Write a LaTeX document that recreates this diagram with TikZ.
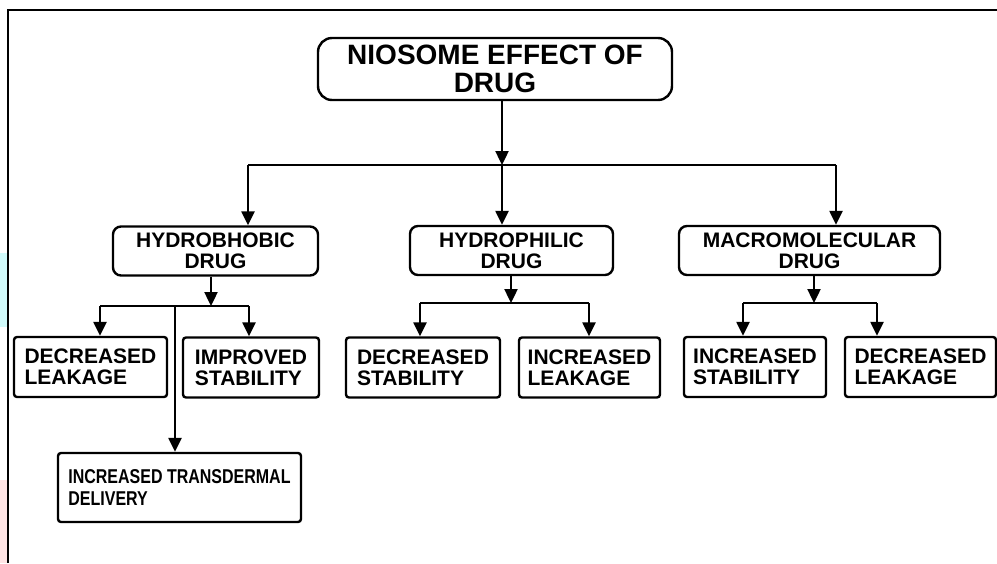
\documentclass[tikz,border=0pt]{standalone}
\usepackage{fontspec}
\setmainfont{Liberation Sans}
\newfontfamily\narrowfont[FakeStretch=0.8]{Liberation Sans}
\usepackage{tikz}
\usetikzlibrary{positioning,arrows.meta}
\definecolor{edgecyan}{RGB}{208,250,250}
\definecolor{edgepink}{RGB}{255,228,228}

\begin{document}
\begin{tikzpicture}[x=0.5pt,y=-0.5pt,line width=1.2pt,>={Triangle[length=7pt,width=6.5pt]}]
        \tikzstyle{topbox}=[draw,rounded corners=7pt,minimum width=177pt,minimum height=31pt,align=center,font=\bfseries\fontsize{14}{14.2}\selectfont]
        \tikzstyle{drugbox}=[draw,rounded corners=4pt,minimum height=24.5pt,align=center,font=\bfseries\fontsize{10.5}{10.4}\selectfont]
        \tikzstyle{effbox}=[draw,rounded corners=1.5pt,minimum height=30pt,align=left,font=\bfseries\fontsize{10.5}{10.5}\selectfont]
        \useasboundingbox (0,0) rectangle (997,563);
        \fill[edgecyan] (0,253) rectangle (7,327);
        \fill[edgepink] (0,480) rectangle (7,563);
        \draw (8,563) -- (8,10) -- (997,10);

        \node[topbox] (top) at (495,69) {NIOSOME EFFECT OF\\DRUG};
        \node[drugbox,minimum width=102.5pt] (hphob) at (215.5,251) {HYDROBHOBIC\\DRUG};
        \node[drugbox,minimum width=101.5pt] (hphil) at (511.5,250.5) {HYDROPHILIC\\DRUG};
        \node[drugbox,minimum width=130.5pt] (macro) at (809.5,250.5) {MACROMOLECULAR\\DRUG};

        \node[effbox,minimum width=76.5pt] (dleak) at (90.5,367) {DECREASED\\LEAKAGE};
        \node[effbox,minimum width=68pt] (impstab) at (251,367.5) {IMPROVED\\STABILITY};
        \node[effbox,minimum width=121.5pt,minimum height=34.5pt,font=\narrowfont\bfseries\fontsize{10}{11}\selectfont] (itrans) at (179.5,487.5) {INCREASED TRANSDERMAL\\DELIVERY};
        \node[effbox,minimum width=77pt] (dstab) at (423,367.5) {DECREASED\\STABILITY};
        \node[effbox,minimum width=70.5pt] (ileak) at (589.5,367.5) {INCREASED\\LEAKAGE};
        \node[effbox,minimum width=71pt] (instab) at (755,367) {INCREASED\\STABILITY};
        \node[effbox,minimum width=75.5pt] (dleakb) at (920.5,367) {DECREASED\\LEAKAGE};

        % first split
        \coordinate (split) at (502,165);
        \coordinate (jl) at (248,165);
        \coordinate (jr) at (836,165);
        \draw[->] (top.south -| split) -- (split);
        \draw (jl) -- (jr);
        \draw[->] (jl) -- (jl |- hphob.north);
        \draw[->] (split) -- (split |- hphil.north);
        \draw[->] (jr) -- (jr |- macro.north);

        % hydrophobic
        \coordinate (ba) at (211,306);
        \coordinate (bal) at (100,306);
        \coordinate (bar) at (249,306);
        \coordinate (bam) at (175,306);
        \draw[->] (ba |- hphob.south) -- (ba);
        \draw (bal) -- (bar);
        \draw[->] (bal) -- (bal |- dleak.north);
        \draw[->] (bar) -- (bar |- impstab.north);
        \draw[->] (bam) -- (bam |- itrans.north);

        % hydrophilic
        \coordinate (bb) at (511,303);
        \coordinate (bbl) at (420,303);
        \coordinate (bbr) at (589,303);
        \draw[->] (bb |- hphil.south) -- (bb);
        \draw (bbl) -- (bbr);
        \draw[->] (bbl) -- (bbl |- dstab.north);
        \draw[->] (bbr) -- (bbr |- ileak.north);

        % macromolecular
        \coordinate (bc) at (814,303);
        \coordinate (bcl) at (743,303);
        \coordinate (bcr) at (877,303);
        \draw[->] (bc |- macro.south) -- (bc);
        \draw (bcl) -- (bcr);
        \draw[->] (bcl) -- (bcl |- instab.north);
        \draw[->] (bcr) -- (bcr |- dleakb.north);
    \end{tikzpicture}
\end{document}
